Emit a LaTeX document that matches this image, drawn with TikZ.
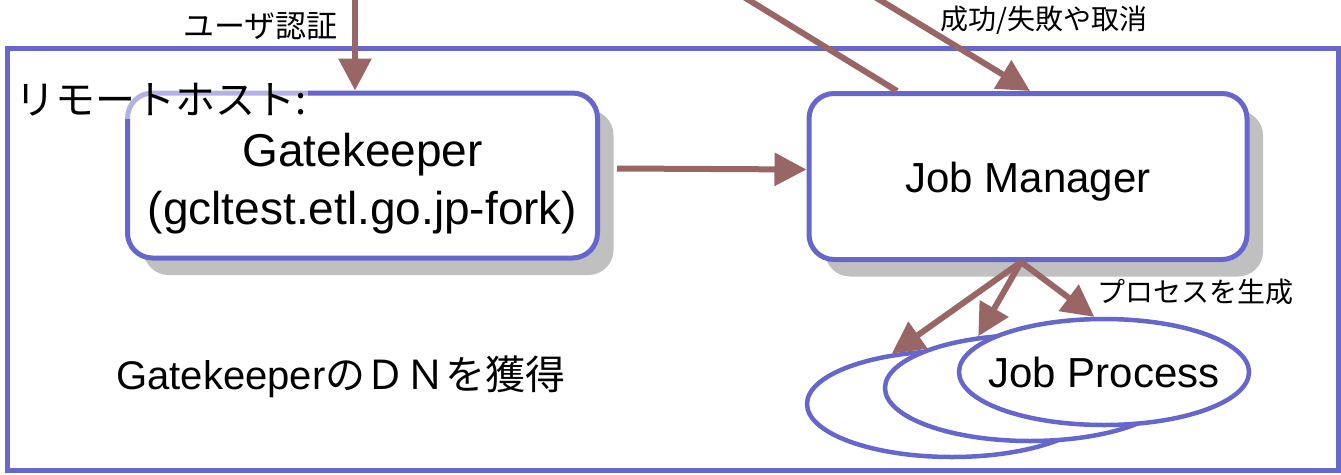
\documentclass[tikz,border=0pt]{standalone}
\usepackage{fontspec}
\setmainfont{Liberation Sans}
\newfontfamily\jpfont{Noto Sans CJK JP}
\usetikzlibrary{arrows.meta,shapes.geometric,shadows}
\definecolor{hostblue}{RGB}{102,102,204}
\definecolor{flowbrown}{RGB}{153,102,102}
\definecolor{shadowgray}{RGB}{192,192,192}

\begin{document}
\begin{tikzpicture}[x=1pt,y=-1pt,
		server/.style={draw=hostblue,line width=5pt,fill=white,rounded corners=25pt,
			drop shadow={shadow xshift=16pt,shadow yshift=-17pt,fill=shadowgray,opacity=1}},
		proc/.style={ellipse,draw=hostblue,line width=4.5pt,fill=white,
			minimum width=290pt,minimum height=106pt,inner sep=0pt},
		flow/.style={draw=flowbrown,line width=6pt,-{Triangle[length=32pt,width=32pt]}},
		note/.style={font=\jpfont\fontsize{28}{34}\selectfont}]
		\useasboundingbox (0,0) rectangle (1341,474);
		%Host frame
		\draw[hostblue,line width=5pt] (7.5,48.5) rectangle (1338.5,470.5);
		%Servers
		\node[server,minimum width=470pt,minimum height=165pt,
			label={[name=gktext,align=center,yshift=-8pt,font=\fontsize{46}{58}\selectfont]center:Gatekeeper\\(gcltest.etl.go.jp-fork)}] (gk) at (362.5,175.5) {};
		\node[anchor=west,fill=white,fill opacity=0.5,text opacity=1,inner sep=2pt,
			font=\jpfont\fontsize{40}{48}\selectfont] (host) at (13,100) {リモートホスト:};
		\node[server,minimum width=438pt,minimum height=166pt,
			label={[name=jmtext,yshift=-5pt,font=\fontsize{42}{50}\selectfont]center:Job Manager}] (jm) at (1028,176.5) {};
		%Incoming requests
		\coordinate (user) at (355,-6);
		\draw[flow] (user) -- (user |- gk.north);
		\node[note,font=\jpfont\fontsize{31}{36}\selectfont,anchor=east] (auth) at (341,26) {ユーザ認証};
		\coordinate (notify) at (739,-6);
		\draw[flowbrown,line width=6pt] ([xshift=-131pt]jm.north) -- (notify);
		\coordinate (cancel) at (870,-6);
		\draw[flow] (cancel) -- ([xshift=2pt]jm.north);
		\node[note] (result) at (1044,20) {成功/失敗や取消};
		\draw[flow] ([xshift=17pt,yshift=7pt]gk.east) -- ([yshift=7pt]jm.west);
		%Processes
		\node[proc] (p1) at (952,404) {};
		\node[proc] (p2) at (1030,388) {};
		\node[proc,label={[name=jptext,font=\fontsize{42}{50}\selectfont]center:Job Process}] (p3) at (1104,372) {};
		\foreach \p/\a in {p1/140,p2/135,p3/100}
			\draw[flow] ([xshift=-7pt]jm.south) -- (\p.\a);
		\node[note] (spawn) at (1195,292) {プロセスを生成};
		%Descriptions
		\node[font=\fontsize{40}{48}\selectfont] (dn) at (341,377) {Gatekeeper{\jpfont のＤＮを獲得}};
\end{tikzpicture}
\end{document}
